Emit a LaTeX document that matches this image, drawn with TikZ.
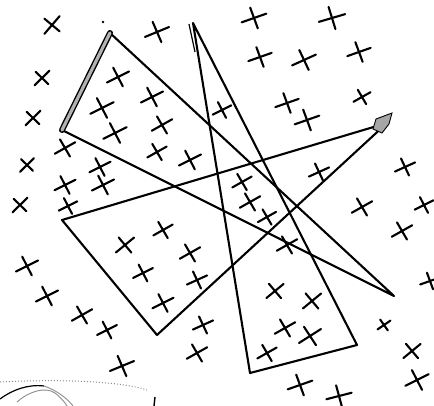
\documentclass[tikz,border=0pt]{standalone}
\begin{document}
\begin{tikzpicture}[x=1pt,y=-1pt,
  edge/.style={line width=2.1pt,line cap=round,line join=round},
  crs/.style={line width=2.1pt,line cap=round},
  faint/.style={draw=black!45,line width=0.9pt}]
\useasboundingbox (0,0) rectangle (434,406);
% triangle A
\coordinate (a1) at (110,33); \coordinate (a2) at (62,130); \coordinate (a3) at (394,296);
% triangle B
\coordinate (b1) at (62,220); \coordinate (b2) at (387,123); \coordinate (b3) at (157,335);
% triangle C
\coordinate (c1) at (193,23); \coordinate (c2) at (250,373); \coordinate (c3) at (357,345);
\draw[edge] (a2) -- (a3) -- (a1);
\draw[line width=6pt,line cap=round] (a1) -- (a2);
\draw[line width=3.2pt,line cap=round,black!30] (a1) -- (a2);
\draw[edge] (b1) -- (b2) -- (b3) -- cycle;
\fill[black!35,draw=black,line width=0.9pt] (376,119) -- (392,113) -- (389,124) -- (382,133) -- (373,129) -- cycle;
\draw[edge] (c1) -- (c2) -- (c3) -- cycle;
\draw[line width=1.2pt] (189,24) -- (195,52);
% crosses
\foreach \x/\y/\r/\s in {
 52/25/45/0.9, 157/32/18/1, 254/18/15/1, 332/18/12/1.05, 260/57/15/0.95, 304/60/20/1,
 359/52/15/0.95, 42/78/40/0.8, 118/77/22/0.95, 152/97/22/0.95, 102/108/22/1,
 33/118/40/0.8, 115/133/22/1, 162/125/25/0.9, 287/103/15/0.95, 362/97/25/0.75,
 307/120/15/1, 222/110/22/0.8, 65/148/25/0.9, 157/152/25/0.85, 190/160/22/0.95,
 27/165/40/0.75, 100/167/22/0.9, 65/185/22/0.9, 103/185/22/0.95, 319/172/20/0.85,
 405/167/20/0.85, 242/182/25/0.85, 20/205/40/0.8, 68/206/22/0.8, 250/202/25/0.9,
 267/217/25/0.8, 362/207/25/0.9, 424/205/22/0.8, 402/231/25/0.9, 287/245/25/0.9,
 163/230/25/0.85, 125/245/35/0.9, 190/253/25/0.9, 143/273/22/0.85, 197/280/20/0.85,
 163/303/22/0.9, 203/325/20/0.85, 27/266/22/0.95, 47/296/22/0.95, 82/315/25/0.9,
 107/330/22/0.85, 122/366/18/1, 430/281/15/0.8, 275/291/35/0.85, 312/301/35/0.9,
 384/325/30/0.6, 285/328/25/0.9, 310/336/28/1, 267/353/25/0.85, 412/351/35/0.85,
 417/380/22/1, 300/385/15/1, 339/396/10/1, 197/353/25/0.9}
 \draw[crs,shift={(\x,\y)},rotate=\r,scale=\s] (-13,1) -- (13,-1) (-1,-11) -- (1,11);
% bottom-left curves
\draw[black!45,line width=1pt,dotted] (0,382) .. controls (60,379) and (120,381) .. (147,390);
\draw[line width=1.2pt] (0,399) .. controls (12,390) and (28,384) .. (44,386);
\draw[faint] (44,386) .. controls (56,390) and (67,398) .. (73,406);
\draw[faint] (17,402) .. controls (28,392) and (45,386) .. (55,393) .. controls (60,397) and (64,401) .. (67,406);
\draw[line width=1.4pt] (155,397) -- (154,406);
\fill (103,22) circle (1.3);
\end{tikzpicture}
\end{document}
